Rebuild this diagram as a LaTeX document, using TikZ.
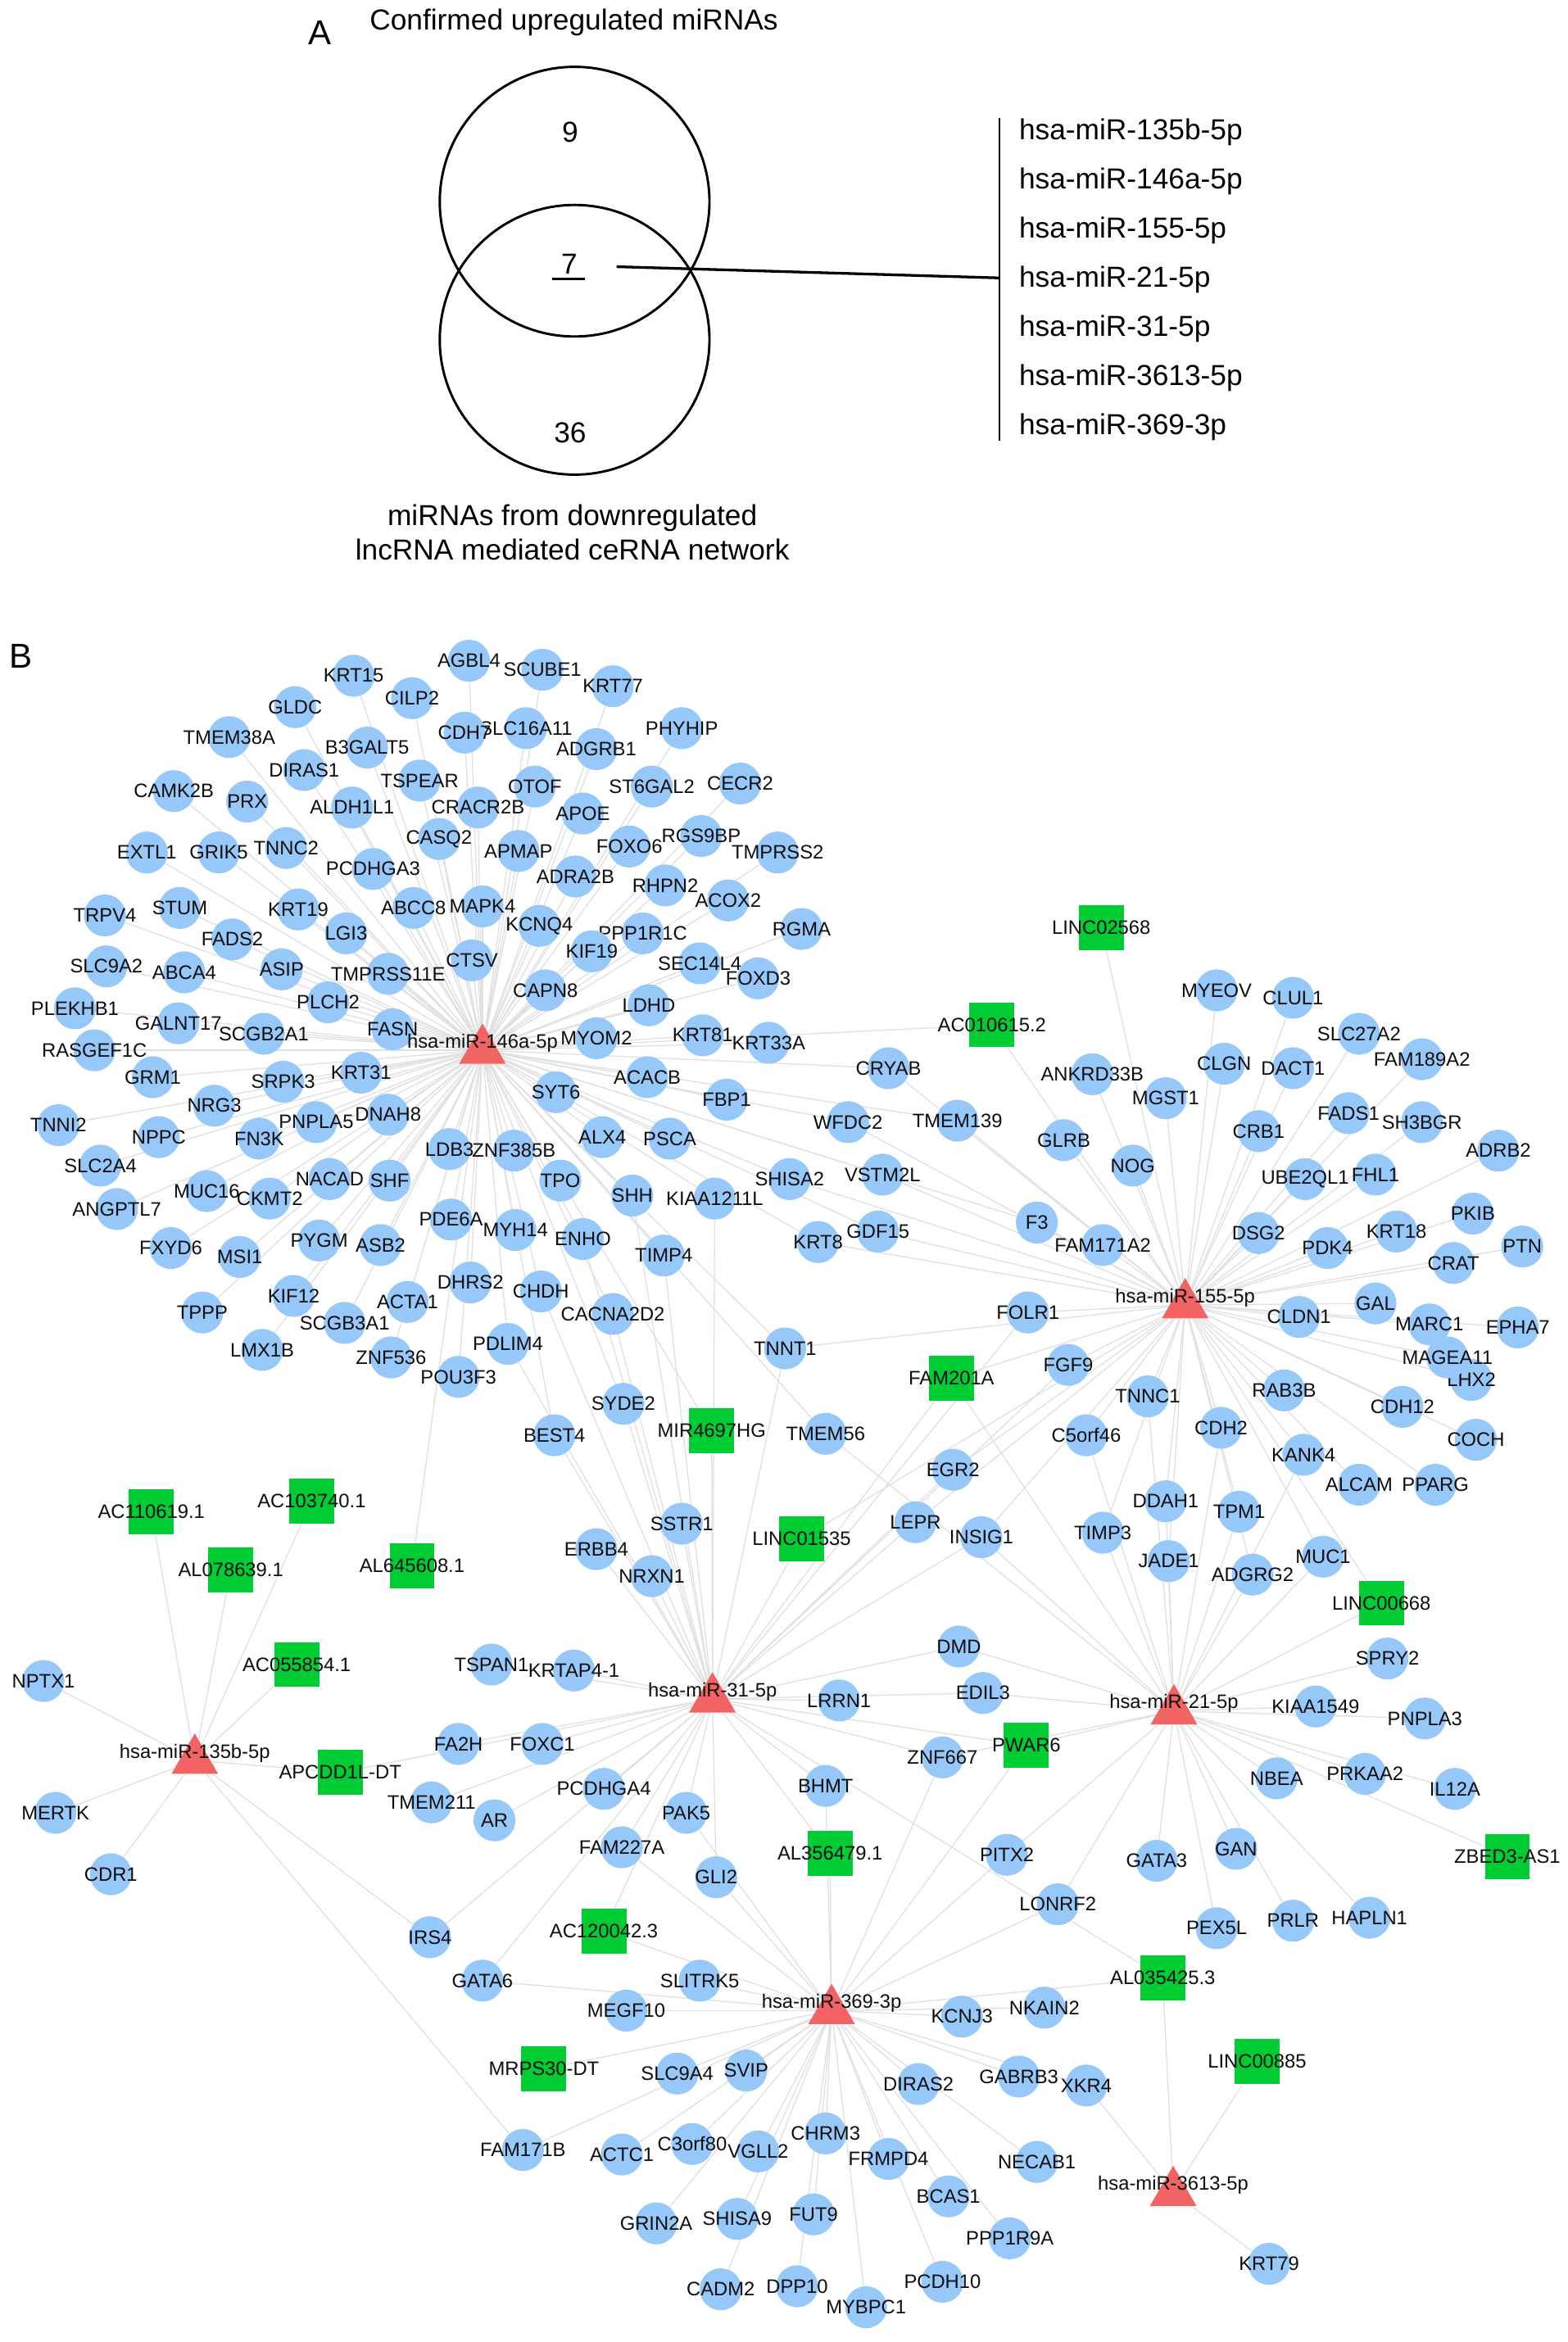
\documentclass[tikz,border=0pt]{standalone}
\usepackage{fontspec}
\setmainfont{Liberation Sans}
\usetikzlibrary{calc, shapes, backgrounds}
\definecolor{genefill}{RGB}{150,200,250}
\definecolor{lncfill}{RGB}{0,204,51}
\definecolor{mirfill}{RGB}{242,100,100}
\newcommand{\netfont}{\fontsize{13}{13}\selectfont}
\newcommand{\venfont}{\fontsize{19.3}{23}\selectfont}
\tikzset
{%
glabel/.style={font=\netfont, inner sep=0pt, text=black!95},
gene/.style={fill=genefill, circle, inner sep=0pt, minimum size=28pt, label={[glabel]center:#1}},
lnc/.style={fill=lncfill, rectangle, inner sep=0pt, minimum size=30pt, label={[glabel]center:#1}},
mir/.style={fill=mirfill, regular polygon, regular polygon sides=3, inner sep=0pt, minimum size=36pt, label={[glabel, yshift=5pt]center:#1}},
link/.style={draw=black!12, line width=0.7pt},
venn/.style={draw, circle, line width=1.6pt, minimum size=180pt, inner sep=0pt},
atext/.style={font=\venfont, inner sep=0pt},
panel/.style={font=\fontsize{23}{25}\selectfont, inner sep=0pt}
}
% targets of hsa-miR-146a-5p
\newcommand{\topcluster}{KRT15/236/451, AGBL4/313/441, SCUBE1/362/447, KRT77/409/458,
GLDC/197/472, CILP2/275/466, TMEM38A/153/492, SLC16A11/351/486, CDH7/310/489,
ADGRB1/398/500, PHYHIP/455/486, B3GALT5/245/499, DIRAS1/203/514, TSPEAR/280/521,
OTOF/357/525, ST6GAL2/435/525, CECR2/494/523, CAMK2B/116/528, PRX/165/535,
ALDH1L1/235/539, CRACR2B/319/539, APOE/389/543, CASQ2/293/560, APMAP/346/568,
FOXO6/420/565, RGS9BP/468/558, TMPRSS2/519/569, EXTL1/98/569, GRIK5/146/569,
TNNC2/191/566, PCDHGA3/249/580, ADRA2B/384/585, RHPN2/444/591, ACOX2/486/601,
TRPV4/70/611, STUM/120/606, KRT19/199/607, ABCC8/276/606, MAPK4/322/605,
KCNQ4/360/618, PPP1R1C/429/623, RGMA/535/620, LGI3/231/623, FADS2/155/627,
KIF19/395/635, SEC14L4/467/643, FOXD3/506/653, SLC9A2/71/645, ABCA4/123/649,
ASIP/188/647, TMPRSS11E/259/650, CTSV/315/641, CAPN8/364/661, LDHD/433/671,
PLEKHB1/50/673, PLCH2/219/669, GALNT17/119/683, SCGB2A1/176/690, FASN/262/687,
MYOM2/398/693, KRT81/469/691, KRT33A/513/696, RASGEF1C/63/701, GRM1/102/719,
SRPK3/189/722, KRT31/241/716, SYT6/371/729, ACACB/432/719, FBP1/485/734,
NRG3/143/738, PNPLA5/211/749, DNAH8/259/744, TNNI2/39/751, NPPC/106/759,
FN3K/173/760, LDB3/300/767, ZNF385B/343/768, ALX4/402/759, PSCA/447/760,
SLC2A4/67/778, NACAD/220/787, SHF/260/788, TPO/374/788, SHH/422/798,
KIAA1211L/477/800, MUC16/138/795, CKMT2/180/800, ANGPTL7/78/807, PDE6A/301/814,
MYH14/344/821, ENHO/389/827, TIMP4/443/838, FXYD6/114/833, MSI1/160/839,
PYGM/213/828, ASB2/254/831, DHRS2/314/856, CHDH/361/862, CACNA2D2/409/877,
KIF12/196/865, ACTA1/272/869, TPPP/135/876, SCGB3A1/230/883, LMX1B/175/901,
ZNF536/261/906, PDLIM4/339/897, POU3F3/306/919}
% between the clusters
\newcommand{\midcluster}{CRYAB/593/713, WFDC2/566/749, TMEM139/639/748, VSTM2L/589/784,
SHISA2/527/787, GDF15/586/822, KRT8/546/829, F3/692/816, FAM171A2/736/831,
FOLR1/686/876, TNNT1/524/900, FGF9/713/911, SYDE2/416/937, BEST4/370/958,
TMEM56/551/957, EGR2/636/981, LEPR/611/1016, SSTR1/455/1017, INSIG1/655/1026,
ERBB4/398/1034, NRXN1/435/1052}
% targets of hsa-miR-155-5p
\newcommand{\rightcluster}{MYEOV/812/661, CLUL1/863/666, SLC27A2/907/690, FAM189A2/949/707,
CLGN/817/710, DACT1/863/713, ANKRD33B/729/717, MGST1/778/733, FADS1/900/743,
SH3BGR/949/749, CRB1/840/755, GLRB/710/761, ADRB2/1000/768, NOG/756/778,
FHL1/918/784, UBE2QL1/871/787, PKIB/983/810, DSG2/840/823, KRT18/932/822,
PTN/1016/832, PDK4/886/833, CRAT/970/843, GAL/918/870, CLDN1/867/879,
MARC1/954/884, EPHA7/1013/886, LHX2/982/921, MAGEA11/966/906, RAB3B/857/928,
TNNC1/766/932, CDH12/936/939, COCH/985/961, ALCAM/907/991, PPARG/958/991}
\newcommand{\lowcluster}{CDH2/815/953, C5orf46/725/958, KANK4/870/971, DDAH1/778/1002,
TPM1/827/1009, TIMP3/736/1023, MUC1/883/1039, JADE1/780/1042, ADGRG2/836/1051,
SPRY2/926/1107, KIAA1549/878/1139, PNPLA3/951/1147, NPTX1/29/1122, TSPAN1/328/1111,
KRTAP4-1/383/1115, DMD/640/1099, EDIL3/656/1130, LRRN1/560/1135, FA2H/306/1164,
FOXC1/362/1164, ZNF667/629/1173, NBEA/852/1187, PRKAA2/911/1184, IL12A/971/1194,
BHMT/551/1192, PCDHGA4/403/1194, TMEM211/288/1203, MERTK/37/1210, PAK5/458/1210,
AR/330/1215, FAM227A/415/1233, GAN/825/1234, PITX2/672/1238, GATA3/772/1242,
CDR1/74/1251, GLI2/478/1253, LONRF2/706/1271, HAPLN1/914/1280, PRLR/863/1282,
PEX5L/812/1287, IRS4/287/1293, GATA6/322/1322, SLITRK5/467/1322, NKAIN2/697/1340,
MEGF10/418/1342, KCNJ3/642/1346, SVIP/498/1382, SLC9A4/452/1384, GABRB3/680/1386,
DIRAS2/613/1391, XKR4/725/1392, CHRM3/551/1424, C3orf80/462/1431, FAM171B/349/1435,
VGLL2/506/1436, ACTC1/415/1438, FRMPD4/593/1441, NECAB1/692/1443, BCAS1/633/1466,
FUT9/543/1478, SHISA9/492/1481, GRIN2A/438/1484, PPP1R9A/674/1494, KRT79/847/1511,
PCDH10/629/1523, DPP10/532/1526, CADM2/481/1528, MYBPC1/578/1540}
\begin{document}
\begin{tikzpicture}[x=1pt, y=-1pt]
	\path[use as bounding box] (0,0) rectangle (1046,1563.2);

	% PANEL A
	\node[panel] (labA) at (213.5,22) {A};
	\node[atext] (uptitle) at (383,15) {Confirmed upregulated miRNAs};
	\node[venn] (upset) at (383.5,134.6) {};
	\node[venn] (downset) at (383.5,226.8) {};
	\node[atext] (nine) at (380.5,88) {9};
	\node[atext] (seven) at (380,176) {7};
	\node[atext] (thirtysix) at (380.5,289) {36};
	\node[atext, align=center] (downtitle) at (382,355.5) {miRNAs from downregulated\\lncRNA mediated ceRNA network};
	\draw[line width=1.6pt] ($(seven)+(-11.5,10.3)$) -- ++(22,0);
	\coordinate (lead) at (411.5,178);
	\coordinate (bartop) at (667,79);
	\coordinate (barbot) at (667,294);
	\coordinate (barjoin) at (667,185.5);
	\draw[line width=1.3pt] (bartop) -- (barbot);
	\draw[line width=1.8pt] (lead) -- (barjoin);
	\foreach \m [count=\i] in {hsa-miR-135b-5p, hsa-miR-146a-5p, hsa-miR-155-5p, hsa-miR-21-5p,
		hsa-miR-31-5p, hsa-miR-3613-5p, hsa-miR-369-3p}
		\node[atext, anchor=west] (list\i) at (680,55.2+32.83*\i) {\m};

	% PANEL B
	\node[panel] (labB) at (14,438) {B};
	\foreach \n/\x/\y in \topcluster {\node[gene=\n] (\n) at (\x,\y) {};}
	\foreach \n/\x/\y in \midcluster {\node[gene=\n] (\n) at (\x,\y) {};}
	\foreach \n/\x/\y in \rightcluster {\node[gene=\n] (\n) at (\x,\y) {};}
	\foreach \n/\x/\y in \lowcluster {\node[gene=\n] (\n) at (\x,\y) {};}

	% lncRNAs
	\foreach \n/\t/\x/\y in {LINC02568/LINC02568/735/619, AC010615/AC010615.2/662/684,
		FAM201A/FAM201A/635/920, MIR4697HG/MIR4697HG/475/955, LINC01535/LINC01535/535/1027,
		AC103740/AC103740.1/208/1002, AC110619/AC110619.1/101/1009, AL645608/AL645608.1/275/1045,
		AL078639/AL078639.1/154/1048, LINC00668/LINC00668/922/1070, AC055854/AC055854.1/198/1111,
		PWAR6/PWAR6/685/1165, APCDD1L-DT/APCDD1L-DT/227/1183, AL356479/AL356479.1/554/1237,
		ZBED3-AS1/ZBED3-AS1/1006/1239, AC120042/AC120042.3/403/1289, AL035425/AL035425.3/776/1320,
		LINC00885/LINC00885/839/1376, MRPS30-DT/MRPS30-DT/363/1381}
		{\node[lnc=\t] (\n) at (\x,\y) {};}

	% miRNAs
	\foreach \n/\t/\x/\y in {m146/hsa-miR-146a-5p/322/701, m155/hsa-miR-155-5p/791/871,
		m21/hsa-miR-21-5p/783.5/1142, m31/hsa-miR-31-5p/475.5/1134, m369/hsa-miR-369-3p/555/1342,
		m135b/hsa-miR-135b-5p/130/1175, m3613/hsa-miR-3613-5p/783/1463.5}
		{\node[mir=\t] (\n) at (\x,\y) {};}

	\begin{scope}[on background layer]
		\fill[white] (0,0) rectangle (1046,1563.2);
		\foreach \n/\x/\y in \topcluster {\draw[link] (m146) -- (\n);}
		\foreach \n in {CRYAB, WFDC2, TMEM139, VSTM2L, SHISA2, GDF15, KRT8, F3, TNNT1, SYDE2,
			BEST4, TMEM56, AC010615, MIR4697HG, AL645608}
			{\draw[link] (m146) -- (\n);}
		\foreach \n/\x/\y in \rightcluster {\draw[link] (m155) -- (\n);}
		\foreach \n in {CRYAB, WFDC2, TMEM139, VSTM2L, SHISA2, GDF15, KRT8, F3, FAM171A2, FOLR1,
			TNNT1, FGF9, EGR2, LEPR, INSIG1, CDH2, C5orf46, KANK4, DDAH1, TPM1, TIMP3, MUC1,
			JADE1, ADGRG2, LINC02568, AC010615, FAM201A, LINC01535, LINC00668}
			{\draw[link] (m155) -- (\n);}
		\foreach \n in {C5orf46, TNNC1, CDH2, DDAH1, TPM1, TIMP3, JADE1, ADGRG2, MUC1, KANK4,
			SPRY2, KIAA1549, PNPLA3, NBEA, PRKAA2, IL12A, ZBED3-AS1, GAN, GATA3, PEX5L, PRLR,
			HAPLN1, LONRF2, PITX2, PWAR6, EDIL3, DMD, ZNF667, INSIG1, LINC00668, FAM201A, TMEM56}
			{\draw[link] (m21) -- (\n);}
		\foreach \n in {TSPAN1, KRTAP4-1, FA2H, FOXC1, TMEM211, AR, PCDHGA4, PAK5, FAM227A, GLI2,
			BHMT, LRRN1, DMD, EDIL3, ERBB4, NRXN1, SSTR1, BEST4, SYDE2, MIR4697HG, LINC01535,
			LEPR, INSIG1, EGR2, TNNT1, ZNF667, AL356479, AC120042, AL035425, PWAR6, FAM201A,
			APCDD1L-DT, IRS4, GATA6, FOLR1, FGF9, KIAA1211L, CACNA2D2, TIMP4, CHDH, PDLIM4,
			ENHO, SHH}
			{\draw[link] (m31) -- (\n);}
		\foreach \n in {SLITRK5, MEGF10, AC120042, GLI2, AL356479, BHMT, KCNJ3, NKAIN2, AL035425,
			SLC9A4, SVIP, DIRAS2, GABRB3, XKR4, FAM171B, ACTC1, C3orf80, VGLL2, CHRM3, FRMPD4,
			NECAB1, BCAS1, GRIN2A, SHISA9, FUT9, PPP1R9A, CADM2, DPP10, PCDH10, MYBPC1,
			MRPS30-DT, PITX2, LONRF2, PAK5, FAM227A, ZNF667, PWAR6, GATA6}
			{\draw[link] (m369) -- (\n);}
		\foreach \n in {AC110619, AC103740, AL078639, AC055854, NPTX1, MERTK, CDR1, APCDD1L-DT,
			IRS4, FAM171B}
			{\draw[link] (m135b) -- (\n);}
		\foreach \n in {AL035425, LINC00885, XKR4, KRT79}
			{\draw[link] (m3613) -- (\n);}
	\end{scope}
\end{tikzpicture}
\end{document}
